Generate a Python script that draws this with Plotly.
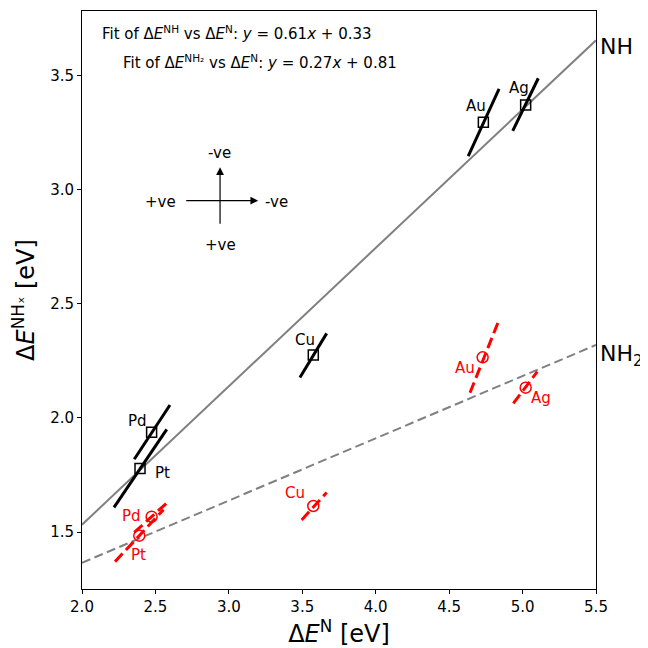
import plotly.graph_objects as go

# ---------------- data ----------------
metals = ["Au", "Ag", "Cu", "Pd", "Pt"]
dE_N = [4.733, 5.021, 3.575, 2.474, 2.395]
dE_NH = [3.297, 3.373, 2.276, 1.937, 1.778]
dE_N_nh2 = [4.728, 5.021, 3.575, 2.474, 2.390]
dE_NH2 = [2.266, 2.133, 1.614, 1.567, 1.484]

# short scaling segments through each metal (endpoints)
nh_seg_x0 = [4.630, 4.933, 3.484, 2.356, 2.218]
nh_seg_x1 = [4.840, 5.107, 3.666, 2.599, 2.577]
nh_seg_y0 = [3.149, 3.259, 2.178, 1.819, 1.608]
nh_seg_y1 = [3.443, 3.490, 2.371, 2.057, 1.950]

nh2_seg_x0 = [4.642, 4.937, 3.496, 2.356, 2.225]
nh2_seg_x1 = [4.835, 5.100, 3.666, 2.592, 2.555]
nh2_seg_y0 = [2.111, 2.064, 1.553, 1.498, 1.370]
nh2_seg_y1 = [2.422, 2.203, 1.673, 1.636, 1.598]

# linear fits
fit_names = ["NH", "NH<sub>2</sub>"]
fit_slope = [0.607, 0.273]
fit_intercept = [0.318, 0.819]
fit_text_slope = ["0.61", "0.27"]
fit_text_intercept = ["0.33", "0.81"]

x_range = [2.0, 5.5]
y_range = [1.25, 3.785]
x_ticks = [2.0, 2.5, 3.0, 3.5, 4.0, 4.5, 5.0, 5.5]
y_ticks = [1.5, 2.0, 2.5, 3.0, 3.5]

# ---------------- styles ----------------
FONT = "DejaVu Sans"
nh_label_shift = [(-7, 16), (-7, 17), (-8, 15), (-14, 11), (22, -4)]
nh2_label_shift = [(-18, -11), (15, -10), (-18, 13), (-20, 1), (-1, -19)]
fit_label_shift = [-6, -11]

fig = go.Figure()

# fit lines
fit_dash = ["solid", "9px,4.5px"]
for k in range(2):
    xs = x_range
    ys = [fit_slope[k] * x + fit_intercept[k] for x in xs]
    fig.add_trace(go.Scatter(x=xs, y=ys, mode="lines",
                             line=dict(color="#808080", width=2, dash=fit_dash[k]),
                             hoverinfo="skip", showlegend=False))


def seg_xy(x0, x1, y0, y1):
    xs, ys = [], []
    for a, b, c, d in zip(x0, x1, y0, y1):
        xs += [a, b, None]
        ys += [c, d, None]
    return xs, ys


sx, sy = seg_xy(nh_seg_x0, nh_seg_x1, nh_seg_y0, nh_seg_y1)
fig.add_trace(go.Scatter(x=sx, y=sy, mode="lines", line=dict(color="black", width=3),
                         hoverinfo="skip", showlegend=False))
sx, sy = seg_xy(nh2_seg_x0, nh2_seg_x1, nh2_seg_y0, nh2_seg_y1)
fig.add_trace(go.Scatter(x=sx, y=sy, mode="lines",
                         line=dict(color="red", width=3, dash="11px,5px"),
                         hoverinfo="skip", showlegend=False))

fig.add_trace(go.Scatter(x=dE_N, y=dE_NH, mode="markers",
                         marker=dict(symbol="square-open", size=10, color="black",
                                     line=dict(width=1.5)),
                         showlegend=False))
fig.add_trace(go.Scatter(x=dE_N_nh2, y=dE_NH2, mode="markers",
                         marker=dict(symbol="circle-open", size=11, color="red",
                                     line=dict(width=1.5)),
                         showlegend=False))

ann = []
for i, m in enumerate(metals):
    ann.append(dict(x=dE_N[i], y=dE_NH[i], text=m, showarrow=False,
                    xshift=nh_label_shift[i][0], yshift=nh_label_shift[i][1],
                    font=dict(family=FONT, size=15, color="black")))
    ann.append(dict(x=dE_N_nh2[i], y=dE_NH2[i], text=m, showarrow=False,
                    xshift=nh2_label_shift[i][0], yshift=nh2_label_shift[i][1],
                    font=dict(family=FONT, size=15, color="red")))

# line end labels
for k in range(2):
    ann.append(dict(xref="paper", x=1.0, xanchor="left", xshift=2,
                    y=fit_slope[k] * x_range[1] + fit_intercept[k], yshift=fit_label_shift[k],
                    text=fit_names[k], showarrow=False,
                    font=dict(family=FONT, size=22, color="black")))

# fit equations
ann.append(dict(xref="paper", yref="paper", x=0.035, y=0.962, xanchor="left", yanchor="middle",
                text="Fit of Δ<i>E</i><sup>NH</sup> vs Δ<i>E</i><sup>N</sup>: <i>y</i> = "
                     + fit_text_slope[0] + "<i>x</i> + " + fit_text_intercept[0],
                showarrow=False, font=dict(family=FONT, size=15, color="black")))
ann.append(dict(xref="paper", yref="paper", x=0.076, y=0.912, xanchor="left", yanchor="middle",
                text="Fit of Δ<i>E</i><sup>NH₂</sup> vs Δ<i>E</i><sup>N</sup>: <i>y</i> = "
                     + fit_text_slope[1] + "<i>x</i> + " + fit_text_intercept[1],
                showarrow=False, font=dict(family=FONT, size=15, color="black")))

# direction arrows
ann.append(dict(x=3.200, y=2.953, ax=2.686, ay=2.953, axref="x", ayref="y",
                showarrow=True, arrowhead=2, arrowsize=1.3, arrowwidth=1.2,
                arrowcolor="black", text=" ", font=dict(size=14)))
ann.append(dict(x=2.940, y=3.100, ax=2.940, ay=2.810, axref="x", ayref="y",
                showarrow=True, arrowhead=2, arrowsize=1.3, arrowwidth=1.2,
                arrowcolor="black", text=" ", font=dict(size=14)))
for (tx, ty, tt) in [(2.533, 2.949, "+ve"), (3.326, 2.949, "-ve"),
                     (2.935, 3.161, "-ve"), (2.940, 2.759, "+ve")]:
    ann.append(dict(x=tx, y=ty, text=tt, showarrow=False,
                    font=dict(family=FONT, size=15, color="black")))

# page body has an 8px default margin, so the figure is 640 px and offset by 8 px
fig.update_layout(
    width=640, height=640,
    margin=dict(l=74, r=52, t=3, b=59, autoexpand=False),
    paper_bgcolor="white", plot_bgcolor="white",
    font=dict(family=FONT, size=14, color="black"),
    annotations=ann,
    showlegend=False,
)
fig.update_xaxes(range=x_range, tickvals=x_ticks, ticktext=[f"{v:.1f}" for v in x_ticks],
                 showgrid=False, zeroline=False, showline=True, linecolor="black",
                 linewidth=1, mirror=True, ticks="outside", ticklen=4, tickcolor="black",
                 tickfont=dict(size=15), automargin=False,
                 title=dict(text="Δ<i>E</i><sup>N</sup> [eV]", font=dict(size=24), standoff=17))
fig.update_yaxes(range=y_range, tickvals=y_ticks, ticktext=[f"{v:.1f}" for v in y_ticks],
                 showgrid=False, zeroline=False, showline=True, linecolor="black",
                 linewidth=1, mirror=True, ticks="outside", ticklen=4, tickcolor="black",
                 tickfont=dict(size=15), automargin=False,
                 title=dict(text="Δ<i>E</i><sup>NHₓ</sup> [eV]", font=dict(size=24), standoff=13))

fig.write_html("out.html")
